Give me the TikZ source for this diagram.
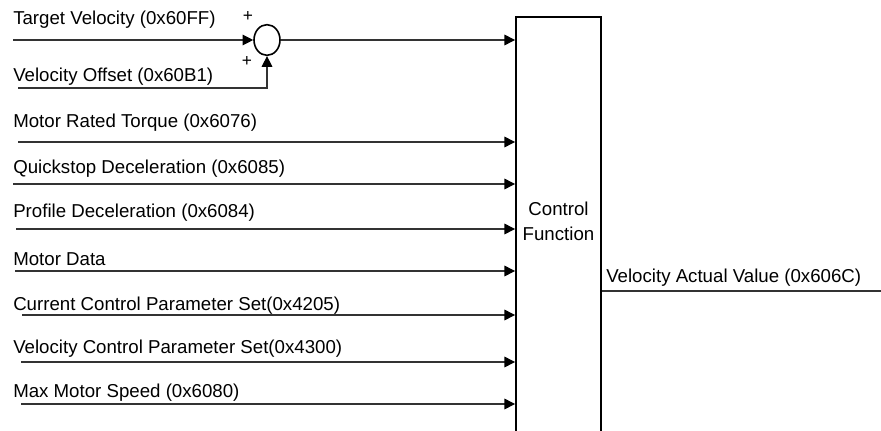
\documentclass[tikz,border=0pt]{standalone}
\usepackage{fontspec}
\setmainfont{Liberation Sans}
\usetikzlibrary{shapes.geometric, arrows.meta, positioning}

\begin{document}
\begin{tikzpicture}[
  x=0.75pt, y=-0.75pt,
  lbl/.style={anchor=base west, inner sep=0pt, font=\fontsize{14}{17}\selectfont},
  sgn/.style={inner sep=0pt, font=\fontsize{13}{15}\selectfont},
  ctrl/.style={rectangle, draw=black, line width=1.4pt,
               minimum width=63.75pt, minimum height=316.5pt,
               align=center, text depth=10pt, font=\fontsize{14}{18.75}\selectfont},
  sumnode/.style={ellipse, draw=black, line width=1.2pt,
               minimum width=19.5pt, minimum height=23pt, inner sep=0pt},
  arr/.style={-{Triangle[length=8pt, width=8pt, color=black]}, gray!40!black, line width=0.9pt},
  wire/.style={gray!40!black, line width=0.9pt},
]
\useasboundingbox (0,0) rectangle (881,431);

\node[ctrl]    (cf)  at (558.5,228) {Control\\Function};
\node[sumnode] (sum) at (267,40) {};
\node[sgn] (plus1) at (248,17) {+};
\node[sgn] (plus2) at (247,62) {+};

% summing junction inputs
\coordinate (tv) at (13,40);
\node[lbl] (tvl) at (13,25) {Target Velocity (0x60FF)};
\coordinate (vo) at (18,88);
\node[lbl] (vol) at (13,82) {Velocity Offset (0x60B1)};

% direct inputs
\coordinate (mrt) at (18,142);
\node[lbl] (mrtl) at (13,128) {Motor Rated Torque (0x6076)};
\coordinate (qd) at (13,184);
\node[lbl] (qdl) at (13,174) {Quickstop Deceleration (0x6085)};
\coordinate (pd) at (16,229);
\node[lbl] (pdl) at (13,217) {Profile Deceleration (0x6084)};
\coordinate (md) at (15,271);
\node[lbl] (mdl) at (13,265) {Motor Data};
\coordinate (cc) at (22,315);
\node[lbl] (ccl) at (13,310) {Current Control Parameter Set(0x4205)};
\coordinate (vc) at (21,362);
\node[lbl] (vcl) at (13,353) {Velocity Control Parameter Set(0x4300)};
\coordinate (mms) at (21,404);
\node[lbl] (mmsl) at (13,397) {Max Motor Speed (0x6080)};

% output
\coordinate (out) at (881,291);
\node[lbl] (outl) at (606,282) {Velocity Actual Value (0x606C)};

\draw[arr] (tv) -- (sum.west);
\draw[arr] (vo) -| (sum.south);
\draw[arr] (sum.east) -- (cf.west |- sum.east);
\draw[arr] (mrt) -- (cf.west |- mrt);
\draw[arr] (qd) -- (cf.west |- qd);
\draw[arr] (pd) -- (cf.west |- pd);
\draw[arr] (md) -- (cf.west |- md);
\draw[arr] (cc) -- (cf.west |- cc);
\draw[arr] (vc) -- (cf.west |- vc);
\draw[arr] (mms) -- (cf.west |- mms);
\draw[wire] (cf.east |- out) -- (out);
\end{tikzpicture}
\end{document}
